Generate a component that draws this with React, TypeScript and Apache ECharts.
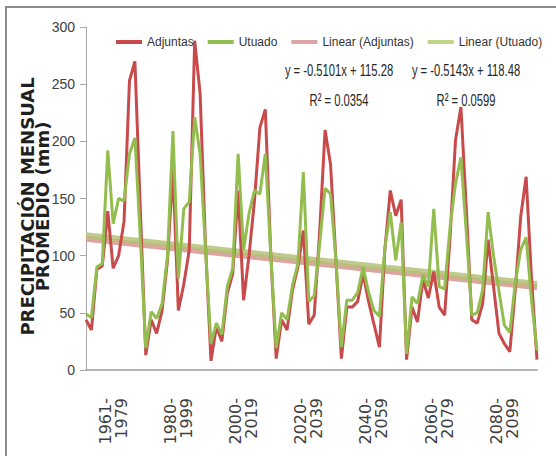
import React, { useEffect, useRef } from "react";
import * as echarts from "echarts";

// Periods (each holds 12 monthly means)
const periods = [
  "1961-1979",
  "1980-1999",
  "2000-2019",
  "2020-2039",
  "2040-2059",
  "2060-2079",
  "2080-2099",
];

// Mean monthly precipitation (mm), Adjuntas
const adjuntas = [
  44, 35, 88, 91, 139, 89, 100, 130, 253, 270, 140, 13,
  44, 32, 52, 96, 175, 52, 75, 105, 288, 242, 108, 8,
  38, 25, 67, 84, 157, 61, 100, 148, 212, 228, 102, 10,
  44, 35, 70, 90, 122, 40, 48, 121, 210, 180, 96, 10,
  55, 55, 60, 84, 60, 40, 20, 105, 157, 135, 149, 9,
  55, 42, 79, 63, 86, 55, 48, 116, 201, 230, 140, 44,
  41, 58, 114, 73, 32, 23, 16, 70, 134, 169, 79, 9,
];

// Mean monthly precipitation (mm), Utuado
const utuado = [
  49, 46, 90, 93, 192, 128, 150, 148, 189, 203, 115, 19,
  51, 45, 58, 100, 209, 80, 141, 147, 221, 189, 105, 23,
  41, 31, 73, 89, 189, 105, 137, 157, 154, 189, 102, 19,
  50, 44, 74, 93, 173, 60, 65, 110, 159, 154, 96, 20,
  61, 61, 68, 90, 68, 52, 47, 107, 138, 96, 129, 14,
  64, 58, 83, 73, 141, 73, 71, 125, 163, 186, 120, 48,
  50, 70, 138, 100, 69, 39, 33, 76, 105, 116, 61, 17,
];

// Linear trend lines (as displayed on the chart)
const trendAdjuntas = { slope: -0.5101, intercept: 115.28, r2: "0.0354" };
const trendUtuado = { slope: -0.5143, intercept: 118.48, r2: "0.0599" };

const yMin = 0;
const yMax = 300;
const yInterval = 50;

const RED = "#c84a4a";
const GREEN = "#93bd4e";
const PINK = "#e2a3a3";
const LGREEN = "#bfd487";

const SANS = "'Liberation Sans', Arial, sans-serif";

const categories = adjuntas.map((_, i) => String(i + 1));
const n = categories.length;

const trendPoints = (t: { slope: number; intercept: number }) => [
  [0, t.intercept + t.slope * 1],
  [n - 1, t.intercept + t.slope * n],
];

const eqText = (t: { slope: number; intercept: number }) =>
  `y = ${t.slope.toFixed(4)}x + ${t.intercept.toFixed(2)}`;

const annot = (text: string, x: number, y: number) => ({
  type: "text",
  x,
  y,
  scaleX: 0.66,
  style: {
    text,
    fontFamily: SANS,
    fontSize: 17,
    fill: "#262626",
    align: "center",
    verticalAlign: "middle",
    textAlign: "center",
    textVerticalAlign: "middle",
  },
  silent: true,
});

export default function App() {
  const ref = useRef<HTMLDivElement>(null);

  useEffect(() => {
    if (!ref.current) return;
    const chart = echarts.init(ref.current, undefined, { renderer: "svg" });
    chart.setOption({
      animation: false,
      backgroundColor: "#ffffff",
      grid: { left: 86, right: 19, top: 27, bottom: 86, containLabel: false },
      legend: {
        data: ["Adjuntas", "Utuado", "Linear (Adjuntas)", "Linear (Utuado)"],
        left: 111,
        top: 31,
        icon: "rect",
        itemWidth: 26,
        itemHeight: 4,
        itemGap: 14,
        textStyle: { fontFamily: SANS, fontSize: 12, color: "#333333" },
      },
      xAxis: {
        type: "category",
        data: categories,
        boundaryGap: false,
        axisLine: { show: true, lineStyle: { color: "#9a9a9a", width: 1.5 } },
        axisTick: { show: false },
        axisLabel: {
          interval: (index: number) => index % 12 === 5,
          rotate: 90,
          margin: 28,
          fontFamily: "'DejaVu Sans', sans-serif",
          fontSize: 16,
          lineHeight: 16,
          color: "#404040",
          formatter: (_v: string, index: number) =>
            periods[Math.floor(index / 12)].replace("-", "-\n"),
        },
        splitLine: { show: false },
      },
      yAxis: {
        type: "value",
        min: yMin,
        max: yMax,
        interval: yInterval,
        name: "PRECIPITACIÓN MENSUAL\nPROMEDIO (mm)",
        nameLocation: "middle",
        nameRotate: 90,
        nameGap: 36,
        nameMoveOverlap: false,
        nameTextStyle: {
          fontFamily: "'DejaVu Sans', sans-serif",
          fontWeight: "bold",
          fontSize: 18,
          lineHeight: 15,
          color: "#1f1f1f",
          padding: [0, 16, 0, 0],
        },
        axisLine: { show: true, lineStyle: { color: "#a8a8a8", width: 1 } },
        axisTick: { show: true, length: 6, lineStyle: { color: "#a8a8a8" } },
        axisLabel: {
          margin: 11,
          fontFamily: SANS,
          fontSize: 14,
          color: "#404040",
        },
        splitLine: { show: false },
      },
      series: [
        {
          name: "Adjuntas",
          type: "line",
          data: adjuntas,
          symbol: "none",
          lineStyle: { color: RED, width: 3 },
          itemStyle: { color: RED },
          z: 3,
        },
        {
          name: "Utuado",
          type: "line",
          data: utuado,
          symbol: "none",
          lineStyle: { color: GREEN, width: 3 },
          itemStyle: { color: GREEN },
          z: 4,
        },
        {
          name: "Linear (Adjuntas)",
          type: "line",
          data: trendPoints(trendAdjuntas),
          symbol: "none",
          lineStyle: { color: "#dca59f", width: 6 },
          itemStyle: { color: PINK },
          z: 1,
        },
        {
          name: "Linear (Utuado)",
          type: "line",
          data: trendPoints(trendUtuado),
          symbol: "none",
          lineStyle: { color: "#b4c276", width: 6, opacity: 0.85 },
          itemStyle: { color: LGREEN },
          z: 2,
        },
      ],
      graphic: [
        {
          type: "rect",
          shape: { x: 6, y: 7, width: 600, height: 500 },
          style: { fill: "none", stroke: "#8c8c8c", lineWidth: 2 },
          silent: true,
        },
        annot(eqText(trendAdjuntas), 339, 70),
        annot(`R² = ${trendAdjuntas.r2}`, 339, 100),
        annot(eqText(trendUtuado), 466, 70),
        annot(`R² = ${trendUtuado.r2}`, 466, 100),
      ],
    });
    return () => chart.dispose();
  }, []);

  return (
    <div
      ref={ref}
      style={{ position: "fixed", left: 0, top: 0, width: 556, height: 456, background: "#fff" }}
    />
  );
}
